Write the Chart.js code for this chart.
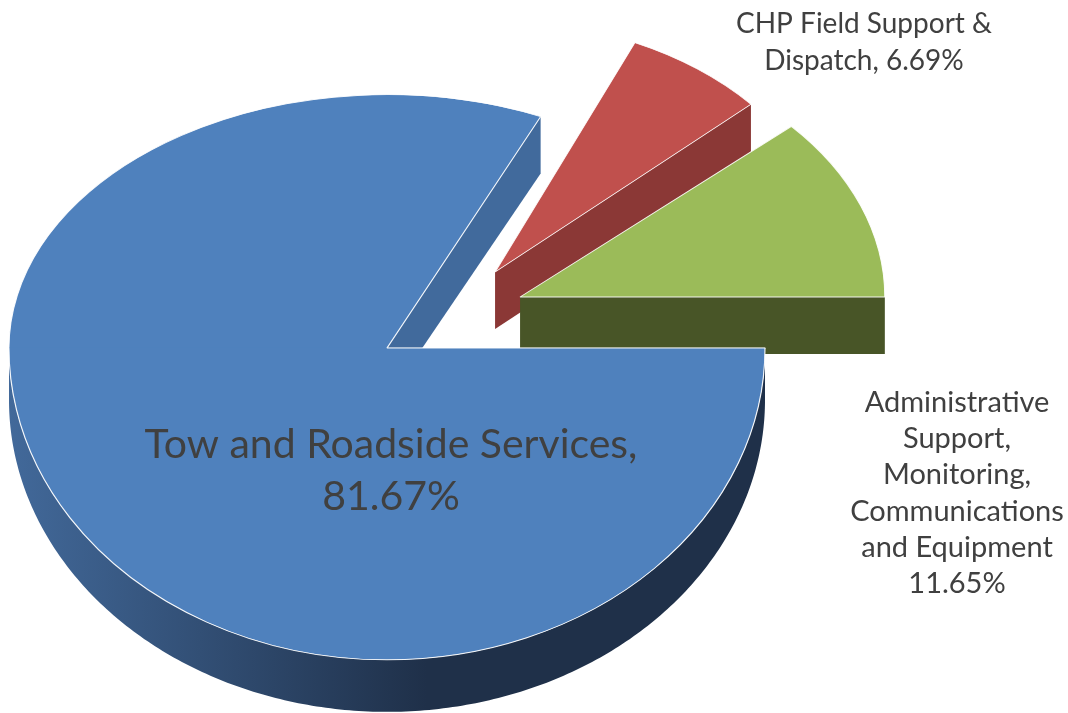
<!DOCTYPE html>
<html>
<head>
<meta charset="utf-8">
<script src="https://cdn.jsdelivr.net/npm/chart.js@4.4.1/dist/chart.umd.min.js"></script>
<style>
  html, body { margin: 0; padding: 0; background: #fff; }
  #wrap { width: 1068px; height: 713px; }
</style>
</head>
<body>
<div id="wrap"><canvas id="myChart" width="1068" height="713"></canvas></div>
<script>
const categories = ['Tow and Roadside Services', 'CHP Field Support & Dispatch', 'Administrative Support, Monitoring, Communications and Equipment'];
const shares = [81.67, 6.69, 11.65];
// label lines as broken in the original, {p} = percentage
const labelLines = [
    ['Tow and Roadside Services,', '{p}'],
    ['CHP Field Support &', 'Dispatch, {p}'],
    ['Administrative', 'Support,', 'Monitoring,', 'Communications', 'and Equipment', '{p}']
];
const topColors = ['#4f81bd', '#c0504d', '#9bbb59'];
const sideColors = ['#416a9c', '#8b3836', '#485527'];
const rimStops = [['#42699a', '#1f3049'], ['#9a3e3b', '#6e2b2a'], ['#55632f', '#3a4520']];

// fake 3d look
const PIE_R = 378;
const K_TOP = 0.67;   // squash of back half
const K_BOT = 0.825;  // squash of front half
const DEPTH_TOP = 57;
const DEPTH_BOT = 52;
// exploded slices: distance/angle from centre, size, own squash (perspective)
const explode = [
    {dist: 0, angle: 0, scale: 1, k: K_TOP},
    {dist: 150, angle: 46.1, scale: 0.91, k: 0.73},
    {dist: 151.7, angle: 61.3, scale: 0.965, k: 0.70}
];
const labelPos = [
    {x: 391, y: 458, size: 41, lh: 52},
    {x: 864, y: 33, size: 28, lh: 37},
    {x: 957, y: 412, size: 29, lh: 36.2}
];

function sliceGeom(arc, i) {
    const e = explode[i];
    const a = (e.angle - 90) * Math.PI / 180;
    return {
        cx: arc.x + Math.cos(a) * e.dist,
        cy: arc.y + Math.sin(a) * e.dist,
        r: arc.outerRadius * e.scale,
        s: e.scale,
        k: e.k
    };
}

function proj(py, kTop, ux, uy) {
    return [ux, py + (uy - py) * (uy < py ? kTop : K_BOT)];
}

function depthAt(py, uy) {
    return uy < py ? DEPTH_TOP : DEPTH_BOT;
}

function drawSides(ctx, arc, i) {
    const g = sliceGeom(arc, i);
    const py = arc.y;
    const a0 = arc.startAngle, a1 = arc.endAngle;

    // outer rim, only the front part
    for (let k = -1; k <= 1; k++) {
        const lo = Math.max(a0, 2 * Math.PI * k);
        const hi = Math.min(a1, 2 * Math.PI * k + Math.PI);
        if (hi - lo < 0.001) continue;
        const n = Math.ceil((hi - lo) * 80);
        const pts = [];
        for (let j = 0; j <= n; j++) {
            const t = lo + (hi - lo) * j / n;
            const ux = g.cx + g.r * Math.cos(t);
            const uy = g.cy + g.r * Math.sin(t);
            const p = proj(py, g.k, ux, uy);
            pts.push([p[0], p[1], depthAt(py, uy)]);
        }
        const grad = ctx.createLinearGradient(g.cx - g.r, 0, g.cx + 40, 0);
        grad.addColorStop(0, rimStops[i][0]);
        grad.addColorStop(1, rimStops[i][1]);
        ctx.beginPath();
        pts.forEach((p, j) => j ? ctx.lineTo(p[0], p[1]) : ctx.moveTo(p[0], p[1]));
        for (let j = pts.length - 1; j >= 0; j--) ctx.lineTo(pts[j][0], pts[j][1] + pts[j][2]);
        ctx.closePath();
        ctx.fillStyle = grad;
        ctx.fill();
    }

    // cut faces that look to the viewer
    const face = (t) => {
        const c = proj(py, g.k, g.cx, g.cy);
        const ey = g.cy + g.r * Math.sin(t);
        const e = proj(py, g.k, g.cx + g.r * Math.cos(t), ey);
        const dc = depthAt(py, g.cy), de = depthAt(py, ey);
        ctx.beginPath();
        ctx.moveTo(c[0], c[1]);
        ctx.lineTo(e[0], e[1]);
        ctx.lineTo(e[0], e[1] + de);
        ctx.lineTo(c[0], c[1] + dc);
        ctx.closePath();
        ctx.fillStyle = sideColors[i];
        ctx.fill();
    };
    if (Math.cos(a1) > 0.001) face(a1);
    if (Math.cos(a0) < -0.001) face(a0);
}

const pie3d = {
    id: 'pie3d',
    beforeDatasetsDraw(chart) {
        const ctx = chart.ctx;
        const meta = chart.getDatasetMeta(0);
        if (!meta.data.length) return false;
        const py = meta.data[0].y;

        meta.data.forEach((arc, i) => drawSides(ctx, arc, i));

        // top faces, drawn by the arc elements, squashed differently back and front
        const passes = [[0, py + 0.5, true], [py - 0.5, chart.height, false]];
        passes.forEach(([y0, y1, back]) => {
            ctx.save();
            ctx.beginPath();
            ctx.rect(0, y0, chart.width, y1 - y0);
            ctx.clip();
            meta.data.forEach((arc, i) => {
                const g = sliceGeom(arc, i);
                ctx.save();
                ctx.translate(0, py);
                ctx.scale(1, back ? g.k : K_BOT);
                ctx.translate(0, -py);
                ctx.translate(g.cx, g.cy);
                ctx.scale(g.s, g.s);
                ctx.translate(-arc.x, -arc.y);
                arc.draw(ctx);
                ctx.restore();
            });
            ctx.restore();
        });
        return false;
    },
    afterDraw(chart) {
        const ctx = chart.ctx;
        ctx.save();
        ctx.fillStyle = '#404040';
        ctx.textAlign = 'center';
        ctx.textBaseline = 'alphabetic';
        labelLines.forEach((lines, i) => {
            const lp = labelPos[i];
            ctx.font = lp.size + 'px Lato';
            lines.forEach((t, j) => {
                ctx.fillText(t.replace('{p}', shares[i].toFixed(2) + '%'), lp.x, lp.y + j * lp.lh);
            });
        });
        ctx.restore();
    }
};

let ctx = document.getElementById('myChart').getContext('2d');
new Chart(ctx, {
    type: 'pie',
    data: {
        labels: categories,
        datasets: [{
            data: shares,
            backgroundColor: topColors,
            borderColor: 'rgba(255, 255, 255, 0.9)',
            borderWidth: 1.2,
            radius: PIE_R,
            rotation: 90,
            clip: false
        }]
    },
    options: {
        responsive: false,
        animation: false,
        events: [],
        radius: PIE_R,
        rotation: 90,
        layout: {
            padding: {left: 0, right: 1068 - 2 * 387, top: 0, bottom: 713 - 2 * 348}
        },
        plugins: {
            legend: {display: false},
            tooltip: {enabled: false}
        }
    },
    plugins: [pie3d]
});
</script>
</body>
</html>
